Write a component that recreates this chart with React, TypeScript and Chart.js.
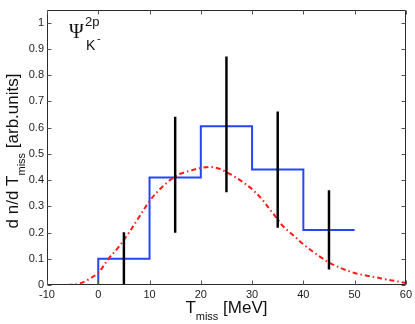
import React, { useEffect, useRef } from "react";
import { Chart, registerables } from "chart.js";

Chart.register(...registerables);

// ---- data ----
const xTicks = [-10, 0, 10, 20, 30, 40, 50, 60];
const yTicks = [0, 0.1, 0.2, 0.3, 0.4, 0.5, 0.6, 0.7, 0.8, 0.9, 1];

const histStart = -10;
const binEdges = [0, 10, 20, 30, 40, 50];
const binValues = [0.1, 0.41, 0.605, 0.44, 0.21];

const errX = [5, 15, 25, 35, 45];
const errLow = [0, 0.2, 0.355, 0.22, 0.06];
const errHigh = [0.2, 0.64, 0.87, 0.66, 0.36];

const curveX = [-6, -4, -2, 0, 2, 4, 5, 6, 8, 10, 12, 14, 15, 16, 18, 20, 22, 24, 25, 26, 28, 30, 32, 34, 35, 36, 38, 40, 42, 44, 45, 46, 48, 50, 52, 54, 56, 58, 60];
const curveY = [0, 0.004, 0.02, 0.047, 0.1, 0.145, 0.172, 0.2, 0.26, 0.32, 0.365, 0.4, 0.413, 0.424, 0.436, 0.446, 0.45, 0.44, 0.43, 0.42, 0.395, 0.365, 0.325, 0.275, 0.25, 0.225, 0.19, 0.155, 0.125, 0.098, 0.086, 0.076, 0.059, 0.046, 0.037, 0.03, 0.022, 0.015, 0.008];

const FONT = "'Liberation Sans', Arial, Helvetica, sans-serif";

const decorPlugin = {
  id: "decor",
  afterDatasetsDraw(chart: any) {
    const { ctx, chartArea: a, scales } = chart;
    ctx.save();
    ctx.strokeStyle = "#2a2a2a";
    ctx.lineWidth = 1;
    const L = Math.round(a.left) + 0.5;
    const R = Math.round(a.right) - 0.5;
    const T = Math.round(a.top) + 0.5;
    const B = Math.round(a.bottom) - 0.5;
    ctx.beginPath();
    ctx.rect(L, T, R - L, B - T);
    ctx.stroke();
    ctx.strokeStyle = "#555";
    ctx.beginPath();
    xTicks.forEach((v) => {
      const px = Math.round(scales.x.getPixelForValue(v)) + 0.5;
      ctx.moveTo(px, B);
      ctx.lineTo(px, B - 4);
      ctx.moveTo(px, T);
      ctx.lineTo(px, T + 4);
    });
    yTicks.forEach((v) => {
      const py = Math.round(scales.y.getPixelForValue(v)) + 0.5;
      ctx.moveTo(L, py);
      ctx.lineTo(L + 4, py);
      ctx.moveTo(R, py);
      ctx.lineTo(R - 4, py);
    });
    ctx.stroke();
    ctx.restore();
  },
  afterDraw(chart: any) {
    const { ctx, chartArea: a } = chart;
    ctx.save();
    ctx.fillStyle = "#111";
    ctx.textBaseline = "alphabetic";
    ctx.textAlign = "left";

    // x-axis title: T_miss [MeV]
    const big = `17px ${FONT}`;
    const small = `11px ${FONT}`;
    ctx.font = big;
    const wT = ctx.measureText("T").width;
    const wRest = ctx.measureText(" [MeV]").width;
    ctx.font = small;
    const wSub = ctx.measureText("miss").width;
    const total = wT + wSub + wRest;
    const x0 = (a.left + a.right) / 2 - total / 2;
    const yb = 313;
    ctx.font = big;
    ctx.fillText("T", x0, yb);
    ctx.font = small;
    ctx.fillText("miss", x0 + wT, yb + 7);
    ctx.font = big;
    ctx.fillText(" [MeV]", x0 + wT + wSub, yb);

    // y-axis title: d n/d T_miss [arb.units]
    ctx.save();
    ctx.translate(18, 151);
    ctx.rotate(-Math.PI / 2);
    const yFont = `17px ${FONT}`;
    const ySub = `11px ${FONT}`;
    ctx.font = yFont;
    const w1 = ctx.measureText("d n/d T").width;
    const w3 = ctx.measureText(" [arb.units]").width;
    ctx.font = ySub;
    const w2 = ctx.measureText("miss").width;
    const tot = w1 + w2 + w3;
    const s = -tot / 2;
    ctx.font = yFont;
    ctx.fillText("d n/d T", s, 0);
    ctx.font = ySub;
    ctx.fillText("miss", s + w1, 7);
    ctx.font = yFont;
    ctx.fillText(" [arb.units]", s + w1 + w2, 0);
    ctx.restore();

    // annotation Psi^{2p}_{K^-}
    ctx.font = `20px 'Liberation Serif', 'DejaVu Serif', serif`;
    ctx.fillText("\u03A8", 69, 38);
    ctx.font = `13px ${FONT}`;
    ctx.fillText("2p", 85, 26);
    ctx.font = `14px ${FONT}`;
    ctx.fillText("K", 86, 50);
    ctx.font = `11px ${FONT}`;
    ctx.fillText("-", 97, 42);
    ctx.restore();
  },
};

export default function App() {
  const ref = useRef<HTMLCanvasElement | null>(null);

  useEffect(() => {
    if (!ref.current) return;
    const histPoints = [
      { x: histStart, y: 0 },
      ...binValues.map((v, i) => ({ x: binEdges[i], y: v })),
      { x: binEdges[binEdges.length - 1], y: binValues[binValues.length - 1] },
    ];
    const curvePoints = curveX.map((x, i) => ({ x, y: curveY[i] }));
    const errPoints = errX.map((x, i) => ({ x, y: [errLow[i], errHigh[i]] }));

    const chart = new Chart(ref.current, {
      type: "line",
      data: {
        datasets: [
          {
            type: "bar",
            data: errPoints as any,
            backgroundColor: "#000",
            borderWidth: 0,
            barThickness: 1.8,
            grouped: false,
            order: 0,
          } as any,
          {
            type: "line",
            data: curvePoints,
            borderColor: "#ff1a1a",
            borderWidth: 2,
            borderDash: [5, 3, 1.5, 3],
            pointRadius: 0,
            tension: 0.35,
            fill: false,
            order: 1,
          },
          {
            type: "line",
            data: histPoints,
            stepped: "before",
            borderColor: "#2646f5",
            borderWidth: 2,
            pointRadius: 0,
            fill: false,
            order: 2,
          } as any,
        ],
      },
      options: {
        animation: false,
        responsive: false,
        events: [],
        layout: { padding: { top: 3, right: 8, left: 0, bottom: 0 } },
        plugins: { legend: { display: false }, tooltip: { enabled: false } },
        scales: {
          x: {
            type: "linear",
            min: -10,
            max: 60,
            offset: false,
            grid: { display: false, offset: false, drawTicks: false },
            border: { display: false },
            afterBuildTicks: (scale: any) => {
              scale.ticks = xTicks.map((v) => ({ value: v }));
            },
            afterFit: (scale: any) => {
              scale.height = 39;
            },
            ticks: {
              padding: 3,
              color: "#222",
              font: { family: FONT, size: 11 },
              maxRotation: 0,
              callback: (v: any) => String(v),
            },
          },
          y: {
            type: "linear",
            min: 0,
            max: 1.05,
            grid: { display: false, drawTicks: false },
            border: { display: false },
            afterBuildTicks: (scale: any) => {
              scale.ticks = yTicks.map((v) => ({ value: v }));
            },
            afterFit: (scale: any) => {
              scale.width = 47;
            },
            ticks: {
              padding: 3,
              color: "#222",
              font: { family: FONT, size: 11 },
              callback: (v: any) => String(Math.round(Number(v) * 10) / 10),
            },
          },
        },
      },
      plugins: [decorPlugin],
    });
    return () => chart.destroy();
  }, []);

  return (
    <div style={{ position: "absolute", left: 0, top: 0, width: 415, height: 324, background: "#fff" }}>
      <canvas ref={ref} width={415} height={324} style={{ width: 415, height: 324, display: "block" }} />
    </div>
  );
}
